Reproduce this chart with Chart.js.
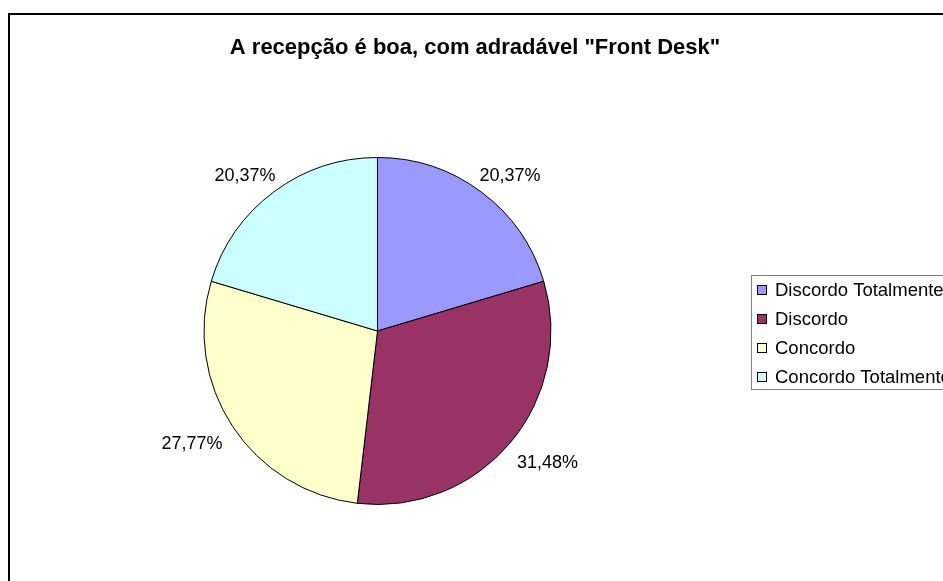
<!DOCTYPE html>
<html>
<head>
<meta charset="utf-8">
<script src="https://cdn.jsdelivr.net/npm/chart.js@4.4.0/dist/chart.umd.min.js"></script>
<style>
  html, body { margin: 0; padding: 0; background: #fff; overflow: hidden; }
  canvas { display: block; }
</style>
</head>
<body>
<canvas id="chart" width="943" height="581"></canvas>
<script>
const titleText = 'A recepção é boa, com adradável "Front Desk"';
const categories = ['Discordo Totalmente', 'Discordo', 'Concordo', 'Concordo Totalmente'];
const percentValues = [20.37, 31.48, 27.77, 20.37];
const sliceColors = ['#9999FF', '#993366', '#FFFFCC', '#CCFFFF'];

const FONT = '"Liberation Sans", Arial, sans-serif';

// frame, title and legend drawn like the old Excel chart
const excelBits = {
  id: 'excelBits',
  beforeDraw(chart) {
    const ctx = chart.ctx;
    ctx.save();
    ctx.fillStyle = '#fff';
    ctx.fillRect(0, 0, chart.width, chart.height);
    ctx.strokeStyle = '#000';
    ctx.lineWidth = 2;
    ctx.strokeRect(9, 14, chart.width + 20, chart.height + 20);
    ctx.fillStyle = '#000';
    ctx.font = 'bold 22px ' + FONT;
    ctx.textAlign = 'center';
    ctx.textBaseline = 'middle';
    ctx.fillText(titleText, 475, 48);
    ctx.restore();
  },
  afterDraw(chart) {
    const ctx = chart.ctx;
    const meta = chart.getDatasetMeta(0);
    ctx.save();
    // legend
    ctx.strokeStyle = '#808080';
    ctx.lineWidth = 1;
    ctx.strokeRect(751.5, 275.5, 300, 114);
    ctx.font = '18.5px ' + FONT;
    ctx.textAlign = 'left';
    ctx.textBaseline = 'middle';
    categories.forEach((name, i) => {
      const y = 290 + i * 29;
      ctx.fillStyle = sliceColors[i];
      ctx.fillRect(757.5, y - 4.5, 9, 9);
      ctx.strokeStyle = '#000';
      ctx.strokeRect(757.5, y - 4.5, 9, 9);
      ctx.fillStyle = '#000';
      ctx.fillText(name, 775, y + 1);
    });
    // percent labels just outside each slice
    ctx.font = '18px ' + FONT;
    ctx.textAlign = 'center';
    meta.data.forEach((arc, i) => {
      const txt = percentValues[i].toFixed(2).replace('.', ',') + '%';
      const w = ctx.measureText(txt).width;
      const mid = (arc.startAngle + arc.endAngle) / 2;
      const d = arc.outerRadius + 18;
      const x = arc.x + Math.cos(mid) * (d + w / 2);
      const y = arc.y + Math.sin(mid) * (d + 7) + 4;
      ctx.fillText(txt, x, y);
    });
    ctx.restore();
  }
};

new Chart(document.getElementById('chart'), {
  type: 'pie',
  data: {
    labels: categories,
    datasets: [{
      data: percentValues,
      backgroundColor: sliceColors,
      borderColor: '#000',
      borderWidth: 1
    }]
  },
  options: {
    responsive: false,
    animation: false,
    layout: { padding: { left: 203, right: 391, top: 157, bottom: 76 } },
    plugins: {
      legend: { display: false },
      title: { display: false },
      tooltip: { enabled: false }
    }
  },
  plugins: [excelBits]
});
</script>
</body>
</html>
